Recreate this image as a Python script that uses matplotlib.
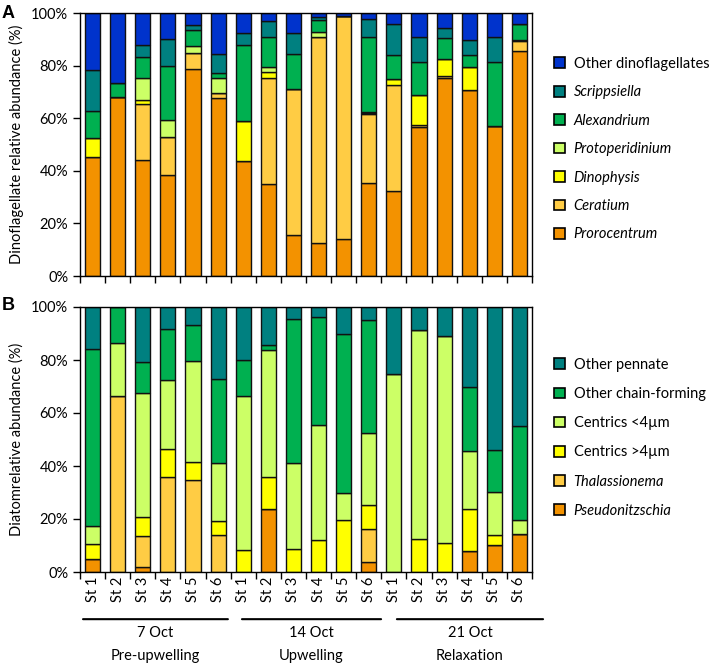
import numpy as np
import matplotlib.pyplot as plt
from matplotlib.patches import Patch

plt.rcParams['font.family'] = ['Lato', 'DejaVu Sans']

stations = ['St 1', 'St 2', 'St 3', 'St 4', 'St 5', 'St 6'] * 3
groups = ['7 Oct\nPre-upwelling', '14 Oct\nUpwelling', '21 Oct\nRelaxation']

# dinoflagellates, % (bottom -> top)
prorocentrum = [45.1, 68.2, 44.1, 38.5, 78.8, 67.8, 43.6, 34.9, 15.5, 12.4, 14.1, 35.4, 32.5, 56.5, 75.4, 70.9, 57.0, 85.5]
ceratium = [0, 0, 21.2, 14.5, 6.1, 1.6, 0, 40.5, 55.7, 78.5, 84.9, 26.1, 40.0, 1.0, 0.5, 0, 0, 3.7]
dinophysis = [7.4, 0, 1.5, 0, 0, 0, 15.4, 2.0, 0, 0, 0, 0.4, 2.4, 11.5, 6.7, 8.7, 0, 0.7]
protoperidinium = [0, 0, 8.5, 6.3, 2.7, 5.9, 0, 2.2, 0, 1.8, 0, 0.5, 0, 0, 0, 0, 0, 0]
alexandrium = [10.3, 5.3, 8.1, 20.4, 6.0, 1.7, 28.9, 11.3, 13.4, 4.5, 0, 28.5, 9.3, 12.2, 7.8, 4.6, 24.2, 5.8]
scrippsiella = [15.5, 0, 4.5, 10.5, 1.9, 7.6, 4.4, 5.9, 7.7, 1.2, 0, 7.0, 11.8, 9.7, 3.8, 5.7, 9.7, 0]
other_dino = [21.7, 26.5, 12.1, 9.8, 4.5, 15.4, 7.7, 3.2, 7.7, 1.6, 1.0, 2.1, 4.0, 9.1, 5.8, 10.1, 9.1, 4.3]

# diatoms, % (bottom -> top)
pseudonitzschia = [5.0, 0, 1.9, 0, 0, 0, 0, 23.7, 0, 0, 0, 3.7, 0, 0, 0, 7.9, 10.1, 14.2]
thalassionema = [0, 66.3, 11.7, 35.8, 34.7, 14.1, 0, 0, 0, 0, 0, 12.7, 0, 0, 0, 0, 0, 0]
centrics_big = [5.5, 0, 7.3, 10.5, 6.7, 5.3, 8.4, 12.2, 8.8, 12.0, 19.8, 8.9, 0, 12.6, 11.0, 15.9, 4.0, 0]
centrics_small = [6.9, 20.2, 46.7, 26.2, 38.4, 21.6, 57.9, 48.0, 32.2, 43.5, 10.1, 27.3, 74.8, 78.6, 78.2, 22.0, 16.0, 5.6]
chain_forming = [66.8, 13.5, 11.7, 19.3, 13.3, 32.0, 13.8, 1.6, 54.6, 40.7, 60.0, 42.6, 0, 0, 0, 24.2, 15.9, 35.3]
other_pennate = [15.8, 0, 20.7, 8.2, 6.9, 27.0, 19.9, 14.5, 4.4, 3.8, 10.1, 4.8, 25.2, 8.8, 10.8, 30.0, 54.0, 44.9]

c_orange = '#F39200'
c_lorange = '#FFCC44'
c_yellow = '#FFFF00'
c_lgreen = '#CCFF66'
c_green = '#00B050'
c_teal = '#008080'
c_blue = '#0033CC'

dino_series = [
    ('Prorocentrum', prorocentrum, c_orange, True),
    ('Ceratium', ceratium, c_lorange, True),
    ('Dinophysis', dinophysis, c_yellow, True),
    ('Protoperidinium', protoperidinium, c_lgreen, True),
    ('Alexandrium', alexandrium, c_green, True),
    ('Scrippsiella', scrippsiella, c_teal, True),
    ('Other dinoflagellates', other_dino, c_blue, False),
]
diatom_series = [
    ('Pseudonitzschia', pseudonitzschia, c_orange, True),
    ('Thalassionema', thalassionema, c_lorange, True),
    ('Centrics >4\u00b5m', centrics_big, c_yellow, False),
    ('Centrics <4\u00b5m', centrics_small, c_lgreen, False),
    ('Other chain-forming', chain_forming, c_green, False),
    ('Other pennate', other_pennate, c_teal, False),
]

fig = plt.figure(figsize=(7.09, 6.69), dpi=100)
axA = fig.add_axes([80 / 709, 1 - 276 / 669, 452 / 709, 263 / 669])
axB = fig.add_axes([80 / 709, 1 - 572 / 669, 452 / 709, 265 / 669])

x = np.arange(len(stations))


def draw_panel(ax, series, legend_top, spacing):
    bottom = np.zeros(len(x))
    handles = []
    for name, vals, col, ital in series:
        vals = np.array(vals)
        ax.bar(x, vals, 0.6, bottom=bottom, color=col, edgecolor='#111111', linewidth=1.0)
        bottom += vals
        handles.append(Patch(facecolor=col, edgecolor='black', linewidth=1.2, label=name))
    ax.set_xlim(-0.5, len(x) - 0.5)
    ax.set_ylim(0, 100)
    ax.set_yticks(np.arange(0, 101, 20))
    ax.set_yticklabels([f'{v}%' for v in range(0, 101, 20)], fontsize=10.5)
    ax.set_xticks(np.arange(-0.5, len(x), 1), minor=True)
    ax.tick_params(axis='x', which='minor', length=5, width=1, direction='out')
    ax.tick_params(axis='x', which='major', length=0)
    ax.tick_params(axis='y', length=5, width=1, direction='out')
    for s in ax.spines.values():
        s.set_linewidth(1.0)
    leg = ax.legend(handles[::-1], [h.get_label() for h in handles[::-1]],
                    loc='upper left', bbox_to_anchor=(548 / 709, legend_top),
                    bbox_transform=fig.transFigure, frameon=False,
                    handlelength=0.75, handleheight=0.75, handletextpad=0.6,
                    labelspacing=spacing, fontsize=10.5, borderaxespad=0)
    ital = [s[3] for s in series][::-1]
    for t, it in zip(leg.get_texts(), ital):
        if it:
            t.set_fontstyle('italic')


draw_panel(axA, dino_series, 1 - 51 / 669, 0.99)
draw_panel(axB, diatom_series, 1 - 352 / 669, 1.04)

axA.set_xticks(x)
axA.set_xticklabels([])
axB.set_xticks(x)
axB.set_xticklabels(stations, rotation=90, fontsize=10.5)

axA.set_ylabel('Dinoflagellate relative abundance (%)', fontsize=10.5, labelpad=5)
axB.set_ylabel('Diatomrelative abundance (%)', fontsize=10.5, labelpad=5)

fig.text(2 / 709, 1 - 13 / 669, 'A', fontsize=13, fontweight='bold', va='center', family='Liberation Sans')
fig.text(2 / 709, 1 - 305 / 669, 'B', fontsize=13, fontweight='bold', va='center', family='Liberation Sans')

# group lines and labels under the stations
line_starts = [-0.38, 5.95, 12.12]
line_ends = [5.39, 11.49, 17.94]
for g, x0, x1 in zip(groups, line_starts, line_ends):
    axB.annotate('', xy=(x0, -0.178), xytext=(x1, -0.178),
                 xycoords=('data', 'axes fraction'), textcoords=('data', 'axes fraction'),
                 arrowprops=dict(arrowstyle='-', lw=1.5, color='black', shrinkA=0, shrinkB=0))
    axB.text((x0 + x1) / 2, -0.205, g, transform=axB.get_xaxis_transform(),
             ha='center', va='top', fontsize=10.5, linespacing=1.75)

fig.savefig('out.png', dpi=100)
